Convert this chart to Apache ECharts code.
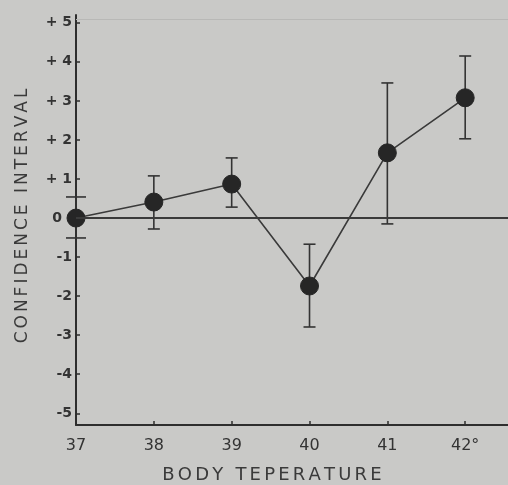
<!DOCTYPE html>
<html>
<head>
<meta charset="utf-8">
<script src="https://cdn.jsdelivr.net/npm/echarts@6/dist/echarts.min.js"></script>
<style>
html,body{margin:0;padding:0;background:#c9c9c7;}
#c{width:508px;height:485px;}
</style>
</head>
<body>
<div id="c"></div>
<script>
var temps = [37, 38, 39, 40, 41, 42];
var xTickLabels = ['37', '38', '39', '40', '41', '42°'];
var means = [0, 0.41, 0.87, -1.74, 1.67, 3.08];
var upper = [0.54, 1.08, 1.54, -0.67, 3.46, 4.15];
var lower = [-0.51, -0.28, 0.28, -2.79, -0.15, 2.03];
var yTicks = [-5, -4, -3, -2, -1, 0, 1, 2, 3, 4, 5];
var yTickLabels = ['-5', '-4', '-3', '-2', '-1', '0', '+ 1', '+ 2', '+ 3', '+ 4', '+ 5'];
var xTitle = 'BODY TEPERATURE';
var yTitle = 'CONFIDENCE INTERVAL';

function spaced(s) {
  return s.split('').map(function (c) { return '{l|' + c + '}'; }).join('');
}

var ink = '#2e2e2e';
var chart = echarts.init(document.getElementById('c'), null, {renderer: 'canvas'});

var errData = temps.map(function (t, i) { return [t, lower[i], upper[i]]; });
var lineData = temps.map(function (t, i) { return [t, means[i]]; });

chart.setOption({
  backgroundColor: '#c9c9c7',
  animation: false,
  grid: {left: 76, right: 0, top: 15, bottom: 60, containLabel: false, outerBoundsMode: 'none'},
  xAxis: {
    type: 'value',
    min: 37, max: 42.55,
    name: spaced(xTitle),
    nameLocation: 'middle',
    nameGap: 41,
    nameTextStyle: {
      color: '#3a3a3a', fontSize: 18, fontFamily: 'DejaVu Sans', padding: [0, 40, 0, 0],
      rich: {l: {color: '#3a3a3a', fontSize: 18, fontFamily: 'DejaVu Sans', padding: [0, 1.6, 0, 1.6]}}
    },
    axisLine: {show: true, onZero: false, lineStyle: {color: ink, width: 2}},
    axisTick: {show: true, inside: true, length: 4, lineStyle: {color: ink, width: 1.5}, customValues: temps},
    axisLabel: {
      color: '#333', fontSize: 16, fontFamily: 'DejaVu Sans', margin: 13,
      customValues: temps,
      formatter: function (v) { var i = temps.indexOf(Math.round(v)); return i >= 0 ? xTickLabels[i] : ''; }
    },
    splitLine: {show: false}
  },
  yAxis: {
    type: 'value',
    min: -5.3, max: 5.2,
    name: spaced(yTitle),
    nameLocation: 'middle',
    nameGap: 45,
    nameRotate: 90,
    nameTextStyle: {
      color: '#3a3a3a', fontSize: 17, fontFamily: 'DejaVu Sans', padding: [0, 0, 0, 8],
      rich: {l: {color: '#3a3a3a', fontSize: 17, fontFamily: 'DejaVu Sans', padding: [0, 1.5, 0, 1.5]}}
    },
    axisLine: {show: true, onZero: false, lineStyle: {color: ink, width: 2}},
    axisTick: {show: true, inside: true, length: 4, lineStyle: {color: ink, width: 1.5}, customValues: yTicks},
    axisLabel: {
      color: '#333', fontSize: 14, fontWeight: 'bold', fontFamily: 'DejaVu Sans', margin: 4,
      customValues: yTicks,
      rich: {z: {color: '#333', fontSize: 14, fontWeight: 'bold', fontFamily: 'DejaVu Sans', padding: [0, 10, 0, 0]}},
      formatter: function (v) {
        var i = yTicks.indexOf(Math.round(v));
        if (i < 0) return '';
        return yTicks[i] === 0 ? '{z|' + yTickLabels[i] + '}' : yTickLabels[i];
      }
    },
    splitLine: {show: false}
  },
  series: [
    {
      type: 'line',
      data: [],
      markLine: {
        silent: true,
        symbol: 'none',
        label: {show: false},
        data: [
          {yAxis: 0, lineStyle: {color: '#3a3a3a', width: 1.8, type: 'solid'}},
          {yAxis: 5.08, lineStyle: {color: '#b8b8b6', width: 1.2, type: 'solid'}}
        ]
      }
    },
    {
      type: 'custom',
      data: errData,
      z: 3,
      renderItem: function (params, api) {
        var x = api.value(0);
        var lo = api.coord([x, api.value(1)]);
        var hi = api.coord([x, api.value(2)]);
        var w = params.dataIndex === 0 ? 10 : 6;
        var style = {stroke: '#333', lineWidth: 1.6};
        return {
          type: 'group',
          children: [
            {type: 'line', shape: {x1: hi[0], y1: hi[1], x2: lo[0], y2: lo[1]}, style: style},
            {type: 'line', shape: {x1: hi[0] - w, y1: hi[1], x2: hi[0] + w, y2: hi[1]}, style: style},
            {type: 'line', shape: {x1: lo[0] - w, y1: lo[1], x2: lo[0] + w, y2: lo[1]}, style: style}
          ]
        };
      }
    },
    {
      type: 'line',
      data: lineData,
      z: 4,
      symbol: 'circle',
      symbolSize: 18,
      lineStyle: {color: '#3a3a3a', width: 1.6},
      itemStyle: {color: '#262626', borderColor: '#262626'}
    }
  ]
});
</script>
</body>
</html>
